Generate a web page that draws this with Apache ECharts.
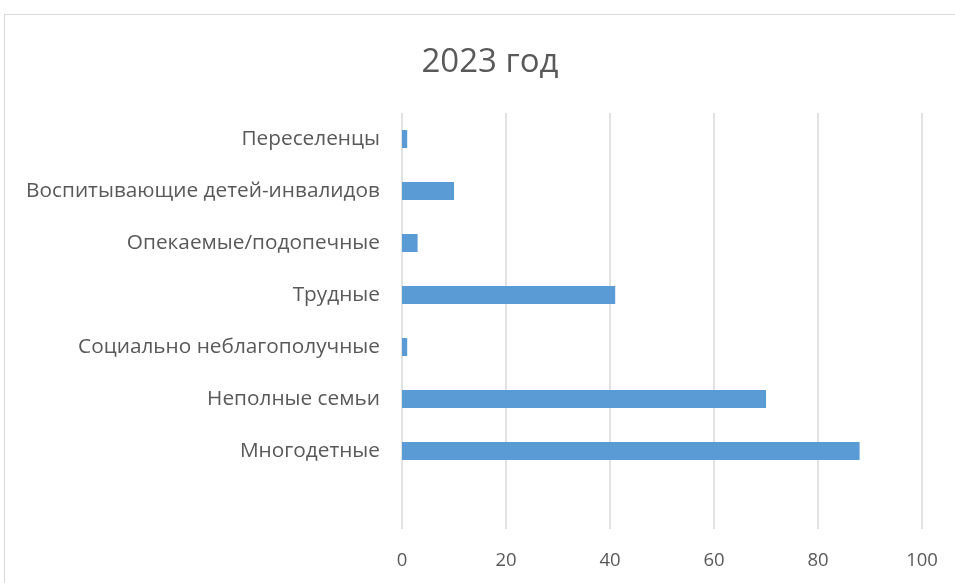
<!DOCTYPE html>
<html>
<head>
<meta charset="utf-8">
<script src="https://cdn.jsdelivr.net/npm/echarts@6/dist/echarts.min.js"></script>
<style>
    html, body { margin: 0; padding: 0; background: #fff; }
    #frame {
        position: absolute; left: 4px; top: 14px; width: 1000px; height: 700px;
        border: 1px solid #d9d9d9; box-sizing: border-box;
    }
    #chart { position: absolute; left: 0; top: 0; width: 955px; height: 583px; }
</style>
</head>
<body>
<div id="frame"></div>
<div id="chart"></div>
<script>
// категории снизу вверх (нижний слот пустой, как в исходной диаграмме)
const categories = [
    "",
    "Многодетные",
    "Неполные семьи",
    "Социально неблагополучные",
    "Трудные",
    "Опекаемые/подопечные",
    "Воспитывающие детей-инвалидов",
    "Переселенцы",
];
const values = [null, 88, 70, 1, 41, 3, 10, 1];
const titleText = "2023 год";

const myChart = echarts.init(document.getElementById("chart"));
const option = {
    animation: false,
    title: {
        text: titleText,
        left: 485,
        top: 41,
        textAlign: "center",
        textStyle: {
            color: "#595959",
            fontSize: 33,
            fontWeight: "normal",
            fontFamily: "Open Sans",
        },
    },
    grid: { left: 402, right: 33, top: 113, bottom: 54, containLabel: false },
    xAxis: {
        type: "value",
        min: 0,
        max: 100,
        interval: 20,
        axisLine: { show: false },
        axisTick: { show: false },
        axisLabel: {
            color: "#595959",
            fontSize: 18.5,
            margin: 22,
            fontFamily: "Open Sans",
        },
        splitLine: { lineStyle: { color: "#d9d9d9", width: 1.5 } },
    },
    yAxis: {
        type: "category",
        data: categories,
        axisLine: { show: false },
        axisTick: { show: false },
        axisLabel: {
            color: "#595959",
            fontSize: 20.8,
            margin: 22,
            fontFamily: "Open Sans",
        },
    },
    series: [
        {
            type: "bar",
            data: values,
            barWidth: 18,
            itemStyle: { color: "#5b9bd5" },
        },
    ],
};
myChart.setOption(option);
</script>
</body>
</html>
